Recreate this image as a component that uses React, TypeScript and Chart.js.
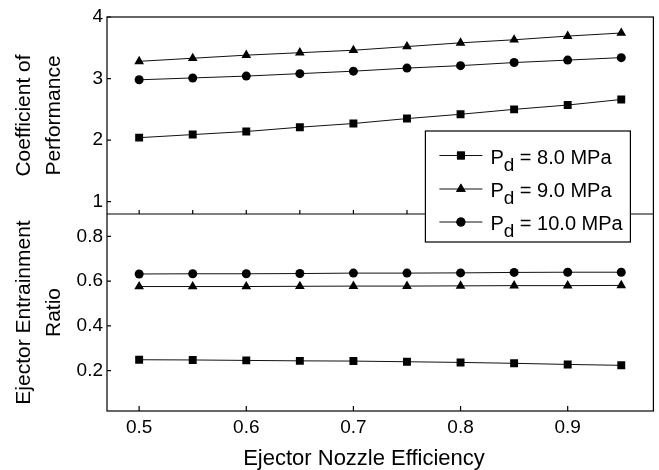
import { useEffect, useRef } from 'react';
import { Chart, registerables } from 'chart.js';
import { drawPoint } from 'chart.js/helpers';

Chart.register(...registerables);

// Ejector nozzle efficiency (x) shared by both panels
const efficiency = [0.5, 0.55, 0.6, 0.65, 0.7, 0.75, 0.8, 0.85, 0.9, 0.95];

// Coefficient of performance for each discharge pressure
const copP8 = [2.04, 2.09, 2.14, 2.21, 2.27, 2.35, 2.42, 2.5, 2.57, 2.66];
const copP9 = [3.28, 3.33, 3.38, 3.42, 3.46, 3.52, 3.58, 3.63, 3.69, 3.74];
const copP10 = [2.98, 3.01, 3.04, 3.08, 3.12, 3.17, 3.21, 3.26, 3.3, 3.34];

// Ejector entrainment ratio for each discharge pressure
const ratioP8 = [0.249, 0.248, 0.246, 0.244, 0.243, 0.24, 0.237, 0.233, 0.228, 0.224];
const ratioP9 = [0.576, 0.576, 0.576, 0.577, 0.578, 0.578, 0.579, 0.58, 0.58, 0.581];
const ratioP10 = [0.632, 0.633, 0.633, 0.634, 0.636, 0.636, 0.637, 0.639, 0.64, 0.64];

const pressureLabels = ['8.0 MPa', '9.0 MPa', '10.0 MPa'];
const markerStyles = ['rect', 'triangle', 'circle'];
const markerRadii = [5.6, 5.6, 4.5];

const xTicks = [0.5, 0.6, 0.7, 0.8, 0.9];
const copTicks = [1, 2, 3, 4];
const ratioTicks = [0.2, 0.4, 0.6, 0.8];

const xTitle = 'Ejector Nozzle Efficiency';

const FONT = '"Liberation Sans", Arial, Helvetica, sans-serif';
const INK = '#000';

const toPoints = (ys: number[]) => efficiency.map((x, i) => ({ x, y: ys[i] }));

function makeDataset(values: number[], idx: number, axis: string) {
  return {
    label: pressureLabels[idx],
    data: toPoints(values),
    yAxisID: axis,
    borderColor: '#111',
    borderWidth: 1,
    backgroundColor: INK,
    pointStyle: markerStyles[idx],
    pointRadius: markerRadii[idx],
    pointBorderWidth: 0,
    pointBackgroundColor: INK,
    tension: 0,
    fill: false,
  };
}

const framePlugin = {
  id: 'panelFrame',
  afterDraw(chart: any) {
    const ctx = chart.ctx;
    const { left, right, top, bottom } = chart.chartArea;
    const x = chart.scales.x;
    const cop = chart.scales.cop;
    const ratio = chart.scales.ratio;
    const divY = cop.bottom;

    ctx.save();
    ctx.strokeStyle = INK;
    ctx.lineWidth = 1.2;
    ctx.strokeRect(left, top, right - left, bottom - top);

    ctx.beginPath();
    ctx.moveTo(left, divY);
    ctx.lineTo(right, divY);
    // inward y ticks
    copTicks.forEach((v) => {
      const py = cop.getPixelForValue(v);
      ctx.moveTo(left, py);
      ctx.lineTo(left + 4, py);
    });
    ratioTicks.forEach((v) => {
      const py = ratio.getPixelForValue(v);
      ctx.moveTo(left, py);
      ctx.lineTo(left + 4, py);
    });
    // bottom x ticks
    xTicks.forEach((v) => {
      const px = x.getPixelForValue(v);
      ctx.moveTo(px, bottom);
      ctx.lineTo(px, bottom - 5);
    });
    // ticks on the panel divider
    efficiency.forEach((v) => {
      const px = x.getPixelForValue(v);
      ctx.moveTo(px, divY);
      ctx.lineTo(px, divY - 4);
    });
    ctx.stroke();

    // x-axis title, set a little left of the plot centre
    ctx.fillStyle = INK;
    ctx.font = `22px ${FONT}`;
    ctx.textAlign = 'center';
    ctx.textBaseline = 'alphabetic';
    ctx.fillText(xTitle, left + 257, bottom + 54);

    // legend box
    const boxRight = right - 23;
    const boxLeft = boxRight - 205;
    const boxTop = top + 114;
    const boxBottom = boxTop + 111;
    ctx.fillStyle = '#fff';
    ctx.fillRect(boxLeft, boxTop, boxRight - boxLeft, boxBottom - boxTop);
    ctx.strokeRect(boxLeft, boxTop, boxRight - boxLeft, boxBottom - boxTop);

    const rowYs = [boxTop + 24.5, boxTop + 58, boxTop + 91];
    pressureLabels.forEach((lbl, i) => {
      const ry = rowYs[i];
      ctx.beginPath();
      ctx.lineWidth = 1;
      ctx.strokeStyle = '#111';
      ctx.moveTo(boxLeft + 14, ry);
      ctx.lineTo(boxLeft + 57, ry);
      ctx.stroke();
      ctx.fillStyle = INK;
      drawPoint(ctx, { pointStyle: markerStyles[i], radius: markerRadii[i], borderWidth: 0, rotation: 0 }, boxLeft + 35.5, ry);
      ctx.fill();

      const tx = boxLeft + 65;
      const base = ry + 8;
      ctx.textBaseline = 'alphabetic';
      ctx.textAlign = 'left';
      ctx.font = `20px ${FONT}`;
      ctx.fillText('P', tx, base);
      const pw = ctx.measureText('P').width;
      ctx.font = `19px ${FONT}`;
      ctx.fillText('d', tx + pw, base + 7);
      const dw = ctx.measureText('d').width;
      ctx.font = `20px ${FONT}`;
      ctx.fillText(` = ${lbl}`, tx + pw + dw, base);
    });
    ctx.restore();
  },
};

export default function App() {
  const canvasRef = useRef<HTMLCanvasElement | null>(null);

  useEffect(() => {
    const canvas = canvasRef.current;
    if (!canvas) return;

    const tickFont = { family: FONT, size: 19 };
    const titleFont = { family: FONT, size: 21, lineHeight: 1.43 };

    const chart = new Chart(canvas, {
      type: 'line',
      data: {
        datasets: [
          makeDataset(copP8, 0, 'cop'),
          makeDataset(copP9, 1, 'cop'),
          makeDataset(copP10, 2, 'cop'),
          makeDataset(ratioP8, 0, 'ratio'),
          makeDataset(ratioP9, 1, 'ratio'),
          makeDataset(ratioP10, 2, 'ratio'),
        ],
      },
      options: {
        animation: false,
        responsive: false,
        events: [],
        layout: { padding: { left: 0, top: 17, right: 5, bottom: 0 } },
        plugins: {
          legend: { display: false },
          tooltip: { enabled: false },
        },
        scales: {
          x: {
            type: 'linear',
            position: 'bottom',
            min: 0.47,
            max: 0.98,
            grid: { display: false, drawTicks: false },
            border: { display: false },
            afterBuildTicks: (s: any) => {
              s.ticks = xTicks.map((value) => ({ value }));
            },
            ticks: {
              font: tickFont,
              color: INK,
              padding: 5,
              maxRotation: 0,
              autoSkip: false,
              callback: (v: any) => Number(v).toFixed(1),
            },
            title: { display: false },
            afterFit: (s: any) => {
              s.height = 59;
            },
          },
          ratio: {
            type: 'linear',
            position: 'left',
            stack: 'panels',
            stackWeight: 1,
            min: 0.02,
            max: 0.9,
            grid: { display: false, drawTicks: false },
            border: { display: false },
            afterBuildTicks: (s: any) => {
              s.ticks = ratioTicks.map((value) => ({ value }));
            },
            ticks: {
              font: tickFont,
              color: INK,
              padding: 4,
              callback: (v: any) => Number(v).toFixed(1),
            },
            title: {
              display: true,
              text: ['Ejector Entrainment', 'Ratio'],
              font: titleFont,
              color: INK,
              padding: { top: 9, bottom: 0 },
            },
            afterFit: (s: any) => {
              s.width = 107;
            },
          },
          cop: {
            type: 'linear',
            position: 'left',
            stack: 'panels',
            stackWeight: 1,
            min: 0.8,
            max: 4,
            grid: { display: false, drawTicks: false },
            border: { display: false },
            afterBuildTicks: (s: any) => {
              s.ticks = copTicks.map((value) => ({ value }));
            },
            ticks: {
              font: tickFont,
              color: INK,
              padding: 4,
              callback: (v: any) => String(v),
            },
            title: {
              display: true,
              text: ['Coefficient of', 'Performance'],
              font: titleFont,
              color: INK,
              padding: { top: 9, bottom: 0 },
            },
            afterFit: (s: any) => {
              s.width = 107;
            },
          },
        },
      } as any,
      plugins: [framePlugin],
    });

    return () => chart.destroy();
  }, []);

  return (
    <div style={{ position: 'fixed', left: 0, top: 0, width: 659, height: 470, background: '#fff' }}>
      <canvas ref={canvasRef} width={659} height={470} style={{ display: 'block' }} />
    </div>
  );
}
